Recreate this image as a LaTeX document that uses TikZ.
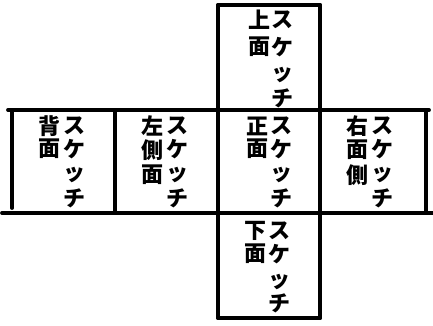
\documentclass[tikz,border=0pt]{standalone}
\usepackage{fontspec}
\newfontfamily\cjkfont{Noto Sans CJK JP}
\tikzset{
  edge/.style={line width=3.8pt, line cap=round},
  ch/.style={font=\cjkfont\bfseries\fontsize{22}{22}\selectfont, inner sep=0pt, anchor=center},
}
\begin{document}
\begin{tikzpicture}[x=1pt,y=-1pt]
\useasboundingbox (0,0) rectangle (433,326);
% corner coordinates
\coordinate (tl) at (218,5);   \coordinate (tr) at (320,5);
\coordinate (bl) at (218,318); \coordinate (br) at (320,318);
\coordinate (hl1) at (8,110);  \coordinate (hr1) at (429,110);
\coordinate (hl2) at (2,213);  \coordinate (hr2) at (433,213);
% frame
\draw[edge] (tl) -- (tr);
\draw[edge] (bl) -- (br);
\draw[edge] (tl) -- (bl);
\draw[edge] (tr) -- (br);
\draw[edge] (hl1) -- (hr1);
\draw[edge] (hl2) -- (hr2);
\draw[edge] (12,110) -- (12,208);
\draw[edge] (115,110) -- (115,213);
\draw[edge] (426,110) -- (426,213);
% top face
\node[ch] (u1) at (259,20) {上};
\node[ch] (u2) at (259,47) {面};
\foreach \c/\y [count=\i] in {ス/20,ケ/47,ッ/75,チ/98}
  \node[ch] (us\i) at (282,\y) {\c};
% back face
\node[ch] (b1) at (49,126) {背};
\node[ch] (b2) at (49,149) {面};
\foreach \c/\y [count=\i] in {ス/126,ケ/149,ッ/175,チ/198}
  \node[ch] (bs\i) at (74,\y) {\c};
% left face
\node[ch] (l1) at (152,126) {左};
\node[ch] (l2) at (152,150) {側};
\node[ch] (l3) at (152,175) {面};
\foreach \c/\y [count=\i] in {ス/126,ケ/149,ッ/175,チ/198}
  \node[ch] (ls\i) at (177,\y) {\c};
% front face
\node[ch] (f1) at (257,126) {正};
\node[ch] (f2) at (257,149) {面};
\foreach \c/\y [count=\i] in {ス/126,ケ/149,ッ/175,チ/198}
  \node[ch] (fs\i) at (281,\y) {\c};
% right face
\node[ch] (r1) at (357,126) {右};
\node[ch] (r2) at (357,150) {面};
\node[ch] (r3) at (357,175) {側};
\foreach \c/\y [count=\i] in {ス/126,ケ/149,ッ/175,チ/198}
  \node[ch] (rs\i) at (382,\y) {\c};
% bottom face
\node[ch] (d1) at (255,231) {下};
\node[ch] (d2) at (255,254) {面};
\foreach \c/\y [count=\i] in {ス/231,ケ/254,ッ/282,チ/303}
  \node[ch] (ds\i) at (279,\y) {\c};
\end{tikzpicture}
\end{document}
